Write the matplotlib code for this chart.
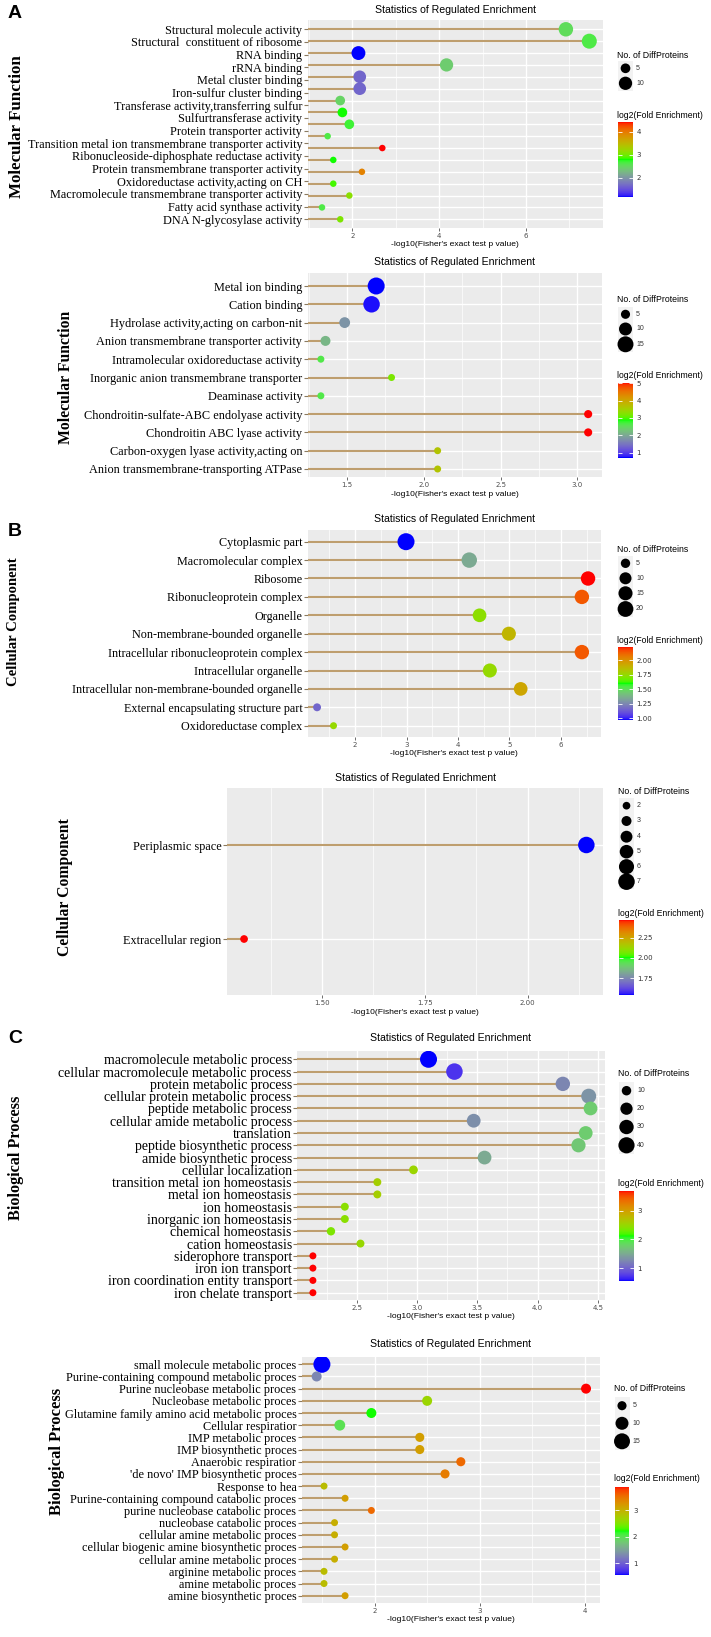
import numpy as np
import matplotlib
matplotlib.use("Agg")
import matplotlib.pyplot as plt
from matplotlib.colors import ListedColormap, Normalize
from matplotlib.cm import ScalarMappable
from matplotlib.patches import Rectangle

W, H = 711, 1637
SANS = "Liberation Sans"
SERIF = "Liberation Serif"
SEG = "#BE9E6E"

# ---- A (upper): molecular function ----
mf1_terms = [
    "Structural molecule activity",
    "Structural  constituent of ribosome",
    "RNA binding",
    "rRNA binding",
    "Metal cluster binding",
    "Iron-sulfur cluster binding",
    "Transferase activity,transferring sulfur",
    "Sulfurtransferase activity",
    "Protein transporter activity",
    "Transition metal ion transmembrane transporter activity",
    "Ribonucleoside-diphosphate reductase activity",
    "Protein transmembrane transporter activity",
    "Oxidoreductase activity,acting on CH",
    "Macromolecule transmembrane transporter activity",
    "Fatty acid synthase activity",
    "DNA N-glycosylase activity",
]
mf1_logp = [6.92, 7.46, 2.14, 4.17, 2.17, 2.17, 1.72, 1.77, 1.93, 1.43, 2.69, 1.56, 2.22, 1.56, 1.93, 1.30, 1.72]
mf1_count = [12, 13, 11, 10, 9, 9, 5, 5, 5, 2, 2, 2, 2, 2, 2, 2, 2]
mf1_lfe = [2.54, 2.64, 1.17, 2.41, 1.66, 1.66, 2.47, 2.80, 2.70, 2.64, 4.43, 2.80, 3.94, 2.87, 3.13, 2.64, 3.06]

# ---- A (lower): molecular function ----
mf2_terms = [
    "Metal ion binding",
    "Cation binding",
    "Hydrolase activity,acting on carbon-nit",
    "Anion transmembrane transporter activity",
    "Intramolecular oxidoreductase activity",
    "Inorganic anion transmembrane transporter",
    "Deaminase activity",
    "Chondroitin-sulfate-ABC endolyase activity",
    "Chondroitin ABC lyase activity",
    "Carbon-oxygen lyase activity,acting on",
    "Anion transmembrane-transporting ATPase",
]
mf2_logp = [1.69, 1.66, 1.485, 1.36, 1.33, 1.79, 1.33, 3.07, 3.07, 2.09, 2.09]
mf2_count = [17, 16, 7, 6, 3, 3, 3, 4, 4, 3, 3]
mf2_lfe = [0.71, 0.75, 1.79, 2.14, 2.65, 3.20, 2.65, 5.03, 5.03, 3.65, 3.65]

# ---- B (upper): cellular component ----
cc1_terms = [
    "Cytoplasmic part",
    "Macromolecular complex",
    "Ribosome",
    "Ribonucleoprotein complex",
    "Organelle",
    "Non-membrane-bounded organelle",
    "Intracellular ribonucleoprotein complex",
    "Intracellular organelle",
    "Intracellular non-membrane-bounded organelle",
    "External encapsulating structure part",
    "Oxidoreductase complex",
]
cc1_logp = [2.99, 4.22, 6.53, 6.41, 4.42, 4.99, 6.41, 4.62, 5.22, 1.26, 1.58]
cc1_count = [24, 19, 16, 16, 14, 15, 16, 15, 14, 3, 2]
cc1_lfe = [0.97, 1.35, 2.23, 2.14, 1.73, 1.88, 2.14, 1.75, 1.93, 1.16, 1.75]

# ---- B (lower): cellular component ----
cc2_terms = ["Periplasmic space", "Extracellular region"]
cc2_logp = [2.143, 1.31]
cc2_count = [7, 2]
cc2_lfe = [1.54, 2.47]

# ---- C (upper): biological process ----
bp1_terms = [
    "macromolecule metabolic process",
    "cellular macromolecule metabolic process",
    "protein metabolic process",
    "cellular protein metabolic process",
    "peptide metabolic process",
    "cellular amide metabolic process",
    "translation",
    "peptide biosynthetic process",
    "amide biosynthetic process",
    "cellular localization",
    "transition metal ion homeostasis",
    "metal ion homeostasis",
    "ion homeostasis",
    "inorganic ion homeostasis",
    "chemical homeostasis",
    "cation homeostasis",
    "siderophore transport",
    "iron ion transport",
    "iron coordination entity transport",
    "iron chelate transport",
]
bp1_logp = [3.095, 3.31, 4.21, 4.425, 4.44, 3.47, 4.40, 4.34, 3.56, 2.97,
            2.67, 2.67, 2.40, 2.40, 2.285, 2.53, 2.135, 2.135, 2.135, 2.135]
bp1_count = [45, 42, 30, 33, 27, 27, 27, 29, 27, 8, 6, 6, 6, 6, 7, 6, 4, 4, 4, 4]
bp1_lfe = [0.56, 0.72, 1.25, 1.34, 1.75, 1.31, 1.75, 1.71, 1.50, 2.53,
           2.59, 2.59, 2.43, 2.43, 2.37, 2.50, 3.68, 3.68, 3.68, 3.68]

# ---- C (lower): biological process ----
bp2_terms = [
    "small molecule metabolic proces",
    "Purine-containing compound metabolic proces",
    "Purine nucleobase metabolic proces",
    "Nucleobase metabolic proces",
    "Glutamine family amino acid metabolic proces",
    "Cellular respiratior",
    "IMP metabolic proces",
    "IMP biosynthetic proces",
    "Anaerobic respiratior",
    "'de novo' IMP biosynthetic proces",
    "Response to hea",
    "Purine-containing compound catabolic proces",
    "purine nucleobase catabolic proces",
    "nucleobase catabolic proces",
    "cellular amine metabolic proces",
    "cellular biogenic amine biosynthetic proces",
    "cellular amine metabolic proces",
    "arginine metabolic proces",
    "amine metabolic proces",
    "amine biosynthetic proces",
]
bp2_logp = [1.50, 1.45, 4.01, 2.50, 1.97, 1.67, 2.43, 2.43, 2.82, 2.67,
            1.52, 1.72, 1.97, 1.62, 1.62, 1.72, 1.62, 1.52, 1.52, 1.72]
bp2_count = [17, 6, 6, 6, 6, 7, 5, 5, 5, 5, 3, 3, 3, 3, 3, 3, 3, 3, 3, 3]
bp2_lfe = [0.56, 1.29, 3.875, 2.65, 2.22, 1.99, 3.15, 3.15, 3.54, 3.41,
           2.88, 3.15, 3.54, 3.01, 3.01, 3.15, 3.01, 2.88, 2.88, 3.15]


def to_lab(rgb):
    rgb = np.asarray(rgb, float)
    lin = np.where(rgb <= 0.04045, rgb / 12.92, ((rgb + 0.055) / 1.055) ** 2.4)
    xyz = M_RGB @ lin / WHITE
    f = np.where(xyz > (6 / 29) ** 3, np.cbrt(xyz), xyz / (3 * (6 / 29) ** 2) + 4 / 29)
    return np.array([116 * f[1] - 16, 500 * (f[0] - f[1]), 200 * (f[1] - f[2])])


def from_lab(lab):
    fy = (lab[0] + 16) / 116
    f = np.array([fy + lab[1] / 500, fy, fy - lab[2] / 200])
    xyz = np.where(f > 6 / 29, f ** 3, 3 * (6 / 29) ** 2 * (f - 4 / 29)) * WHITE
    lin = np.clip(np.linalg.inv(M_RGB) @ xyz, 0, 1)
    return np.clip(np.where(lin <= 0.0031308, 12.92 * lin, 1.055 * lin ** (1 / 2.4) - 0.055), 0, 1)


M_RGB = np.array([[0.4124564, 0.3575761, 0.1804375],
                  [0.2126729, 0.7151522, 0.0721750],
                  [0.0193339, 0.1191920, 0.9503041]])
WHITE = np.array([0.95047, 1.0, 1.08883])

# blue -> green -> red interpolated in Lab, like ggplot's gradientn
anchors = [to_lab(c) for c in ([0, 0, 1], [0, 1, 0], [1, 0, 0])]
ramp = []
for u in np.linspace(0, 1, 256):
    seg = 0 if u < 0.5 else 1
    w = u * 2 - seg
    ramp.append(from_lab(anchors[seg] * (1 - w) + anchors[seg + 1] * w))
CMAP = ListedColormap(ramp)

PANELS = [
    dict(terms=mf1_terms, x=mf1_logp, n=mf1_count, c=mf1_lfe, box=(307.5, 20, 603.2, 228),
         rows=(29.3, 219.3), xlim=(0.966, 7.78), xt=[2, 4, 6], xtl=["2", "4", "6"],
         xm=[1, 3, 5, 7], fs=8.8, title_y=10.3, ylab="Molecular Function", ylab_xy=(16.7, 127),
         ylab_fs=12.2, d=(6.5, 15), keys=[5, 10], key_y=[68.3, 83.3], st_y=55, ct_y=115,
         cbox=(618, 122, 633, 197), ct=[2, 3, 4], ctl=["2", "3", "4"]),
    dict(terms=mf2_terms, x=mf2_logp, n=mf2_count, c=mf2_lfe, box=(307.5, 272.7, 602.3, 477),
         rows=(286, 469), xlim=(1.243, 3.162), xt=[1.5, 2.0, 2.5, 3.0], xtl=["1.5", "2.0", "2.5", "3.0"],
         xm=[1.25, 1.75, 2.25, 2.75], fs=8.85, title_y=262.3, ylab="Molecular Function",
         ylab_xy=(66, 377), ylab_fs=11.3, d=(7, 17), keys=[5, 10, 15], key_y=[314.3, 329, 344.3],
         st_y=299.3, ct_y=375, cbox=(618, 382.7, 633, 457.7), ct=[1, 2, 3, 4, 5],
         ctl=["1", "2", "3", "4", "5"]),
    dict(terms=cc1_terms, x=cc1_logp, n=cc1_count, c=cc1_lfe, box=(307.5, 530, 600.9, 736.7),
         rows=(541.7, 725.7), xlim=(1.074, 6.78), xt=[2, 3, 4, 5, 6], xtl=["2", "3", "4", "5", "6"],
         xm=[1.5, 2.5, 3.5, 4.5, 5.5, 6.5], fs=8.75, title_y=519.3, ylab="Cellular Component",
         ylab_xy=(13.6, 622), ylab_fs=10.6, d=(7, 17), keys=[5, 10, 15, 20],
         key_y=[563.3, 578.3, 593.3, 609], st_y=549, ct_y=640.7, cbox=(618, 646.7, 633, 720),
         ct=[1.0, 1.25, 1.5, 1.75, 2.0], ctl=["1.00", "1.25", "1.50", "1.75", "2.00"]),
    dict(terms=cc2_terms, x=cc2_logp, n=cc2_count, c=cc2_lfe, box=(226.8, 788.3, 603.2, 995),
         rows=(845, 939), xlim=(1.268, 2.184), xt=[1.5, 1.75, 2.0], xtl=["1.50", "1.75", "2.00"],
         xm=[1.375, 1.625, 1.875, 2.125], fs=8.8, title_y=777.7, ylab="Cellular Component",
         ylab_xy=(65, 887), ylab_fs=11.3, d=(7.7, 16.5), keys=[2, 3, 4, 5, 6, 7],
         key_y=[805.7, 821, 836.7, 851.7, 866.7, 881.7], st_y=791.7, ct_y=913.3,
         cbox=(619, 920, 634, 995), ct=[1.75, 2.0, 2.25], ctl=["1.75", "2.00", "2.25"]),
    dict(terms=bp1_terms, x=bp1_logp, n=bp1_count, c=bp1_lfe, box=(297, 1051, 604.5, 1300),
         rows=(1059.3, 1292.7), xlim=(2.003, 4.556), xt=[2.5, 3.0, 3.5, 4.0, 4.5],
         xtl=["2.5", "3.0", "3.5", "4.0", "4.5"], xm=[2.25, 2.75, 3.25, 3.75, 4.25],
         fs=10, title_y=1037.7, ylab="Biological Process", ylab_xy=(16, 1158), ylab_fs=11.7,
         d=(7, 17), keys=[10, 20, 30, 40], key_y=[1090.7, 1108.7, 1127, 1145.3], st_y=1073.3,
         ct_y=1183.3, cbox=(619, 1191, 634, 1281), ct=[1, 2, 3], ctl=["1", "2", "3"]),
    dict(terms=bp2_terms, x=bp2_logp, n=bp2_count, c=bp2_lfe, box=(301.6, 1356.7, 599.5, 1602.7),
         rows=(1364.3, 1595.7), xlim=(1.307, 4.138), xt=[2, 3, 4], xtl=["2", "3", "4"],
         xm=[1.5, 2.5, 3.5], fs=8.8, title_y=1344.3, ylab="Biological Process",
         ylab_xy=(57, 1451), ylab_fs=12, d=(7, 17), keys=[5, 10, 15],
         key_y=[1405.7, 1423.3, 1441.3], st_y=1388.3, ct_y=1478.3,
         cbox=(614.5, 1486.7, 629.5, 1575), ct=[1, 2, 3], ctl=["1", "2", "3"]),
]

fig = plt.figure(figsize=(W / 100, H / 100), dpi=100)
ov = fig.add_axes([0, 0, 1, 1])
ov.set_xlim(0, W)
ov.set_ylim(H, 0)
ov.axis("off")


def fx(x):
    return x / W


def fy(y):
    return 1 - y / H


def diam(v, p):
    lo, hi = np.sqrt(min(p["n"])), np.sqrt(max(p["n"]))
    return p["d"][0] + (p["d"][1] - p["d"][0]) * (np.sqrt(v) - lo) / (hi - lo)


for p in PANELS:
    l, t, r, b = p["box"]
    ax = fig.add_axes([fx(l), fy(b), (r - l) / W, (b - t) / H])
    ax.set_facecolor("#EBEBEB")
    for s in ax.spines.values():
        s.set_visible(False)
    n = len(p["x"])
    rows = np.arange(n)
    y0, y1 = p["rows"]
    step = (y1 - y0) / (n - 1)
    ax.set_xlim(*p["xlim"])
    ax.set_ylim(n - 1 + (b - y1) / step, -(y0 - t) / step)

    ax.set_xticks(p["xt"])
    ax.set_xticklabels(p["xtl"])
    ax.set_xticks(p["xm"], minor=True)
    ax.grid(axis="x", which="major", color="white", lw=1.0)
    ax.grid(axis="x", which="minor", color="white", lw=0.5)
    ax.hlines(rows, *p["xlim"], color="white", lw=1.0, zorder=0.5)
    ax.set_axisbelow(True)
    ax.tick_params(axis="x", which="major", length=2, width=0.6, color="#555555",
                   labelsize=5, labelcolor="#4D4D4D", pad=1.5)
    ax.tick_params(axis="x", which="minor", length=0)

    lab_pos = rows if len(p["terms"]) == n else np.linspace(0, n - 1, len(p["terms"]))
    ax.set_yticks(lab_pos)
    ax.set_yticklabels(p["terms"], family=SERIF, fontsize=p["fs"])
    ax.tick_params(axis="y", length=3.2, width=0.8, color="#8A7A60", pad=0.5)

    norm = Normalize(min(p["c"]), max(p["c"]))
    ax.hlines(rows, p["xlim"][0], p["x"], color=SEG, lw=1.5, zorder=2)
    ax.scatter(p["x"], rows, s=(diam(np.array(p["n"]), p) * 0.72) ** 2, c=p["c"],
               cmap=CMAP, norm=norm, linewidths=0, zorder=3)

    cx = (l + r) / 2
    fig.text(fx(cx), fy(p["title_y"]), "Statistics of Regulated Enrichment",
             ha="center", va="center", family=SANS, fontsize=7.6)
    fig.text(fx(cx), fy(b + 17), "-log10(Fisher's exact test p value)",
             ha="center", va="center", family=SANS, fontsize=6.1)
    fig.text(fx(p["ylab_xy"][0]), fy(p["ylab_xy"][1]), p["ylab"], rotation=90,
             ha="center", va="center", family=SERIF, fontweight="bold", fontsize=p["ylab_fs"])

    # size legend
    cl, ctop, cr, cbot = p["cbox"]
    fig.text(fx(cl - 1), fy(p["st_y"]), "No. of DiffProteins", ha="left", va="center",
             family=SANS, fontsize=6.3)
    ky = p["key_y"]
    kh = (ky[-1] - ky[0]) / (len(ky) - 1) if len(ky) > 1 else 15
    ov.add_patch(Rectangle((cl, ky[0] - kh / 2), cr - cl, kh * len(ky),
                           facecolor="#F2F2F2", edgecolor="none"))
    ov.scatter([cl + (cr - cl) / 2] * len(ky), ky, s=(diam(np.array(p["keys"]), p) * 0.72) ** 2,
               color="black", linewidths=0, zorder=3)
    for k, yk in zip(p["keys"], ky):
        ov.text(cr + 3, yk, str(k), ha="left", va="center", family=SANS, fontsize=5,
                color="#333333")

    # colour legend
    fig.text(fx(cl - 1), fy(p["ct_y"]), "log2(Fold Enrichment)", ha="left", va="center",
             family=SANS, fontsize=6.2)
    cax = fig.add_axes([fx(cl), fy(cbot), (cr - cl) / W, (cbot - ctop) / H])
    cb = fig.colorbar(ScalarMappable(norm=norm, cmap=CMAP), cax=cax)
    cb.outline.set_visible(False)
    cb.set_ticks(p["ct"])
    cb.set_ticklabels(p["ctl"])
    cax.yaxis.set_ticks_position("both")
    cax.tick_params(direction="in", length=3, width=0.6, color="white", labelsize=5,
                    labelcolor="#333333", pad=2.5, labelleft=False, labelright=True)

for letter, yl in (("A", 13.5), ("B", 531), ("C", 1038.5)):
    fig.text(fx(8), fy(yl), letter, ha="left", va="center", family=SANS, fontweight="bold",
             fontsize=14)

fig.savefig("out.png", dpi=100)
